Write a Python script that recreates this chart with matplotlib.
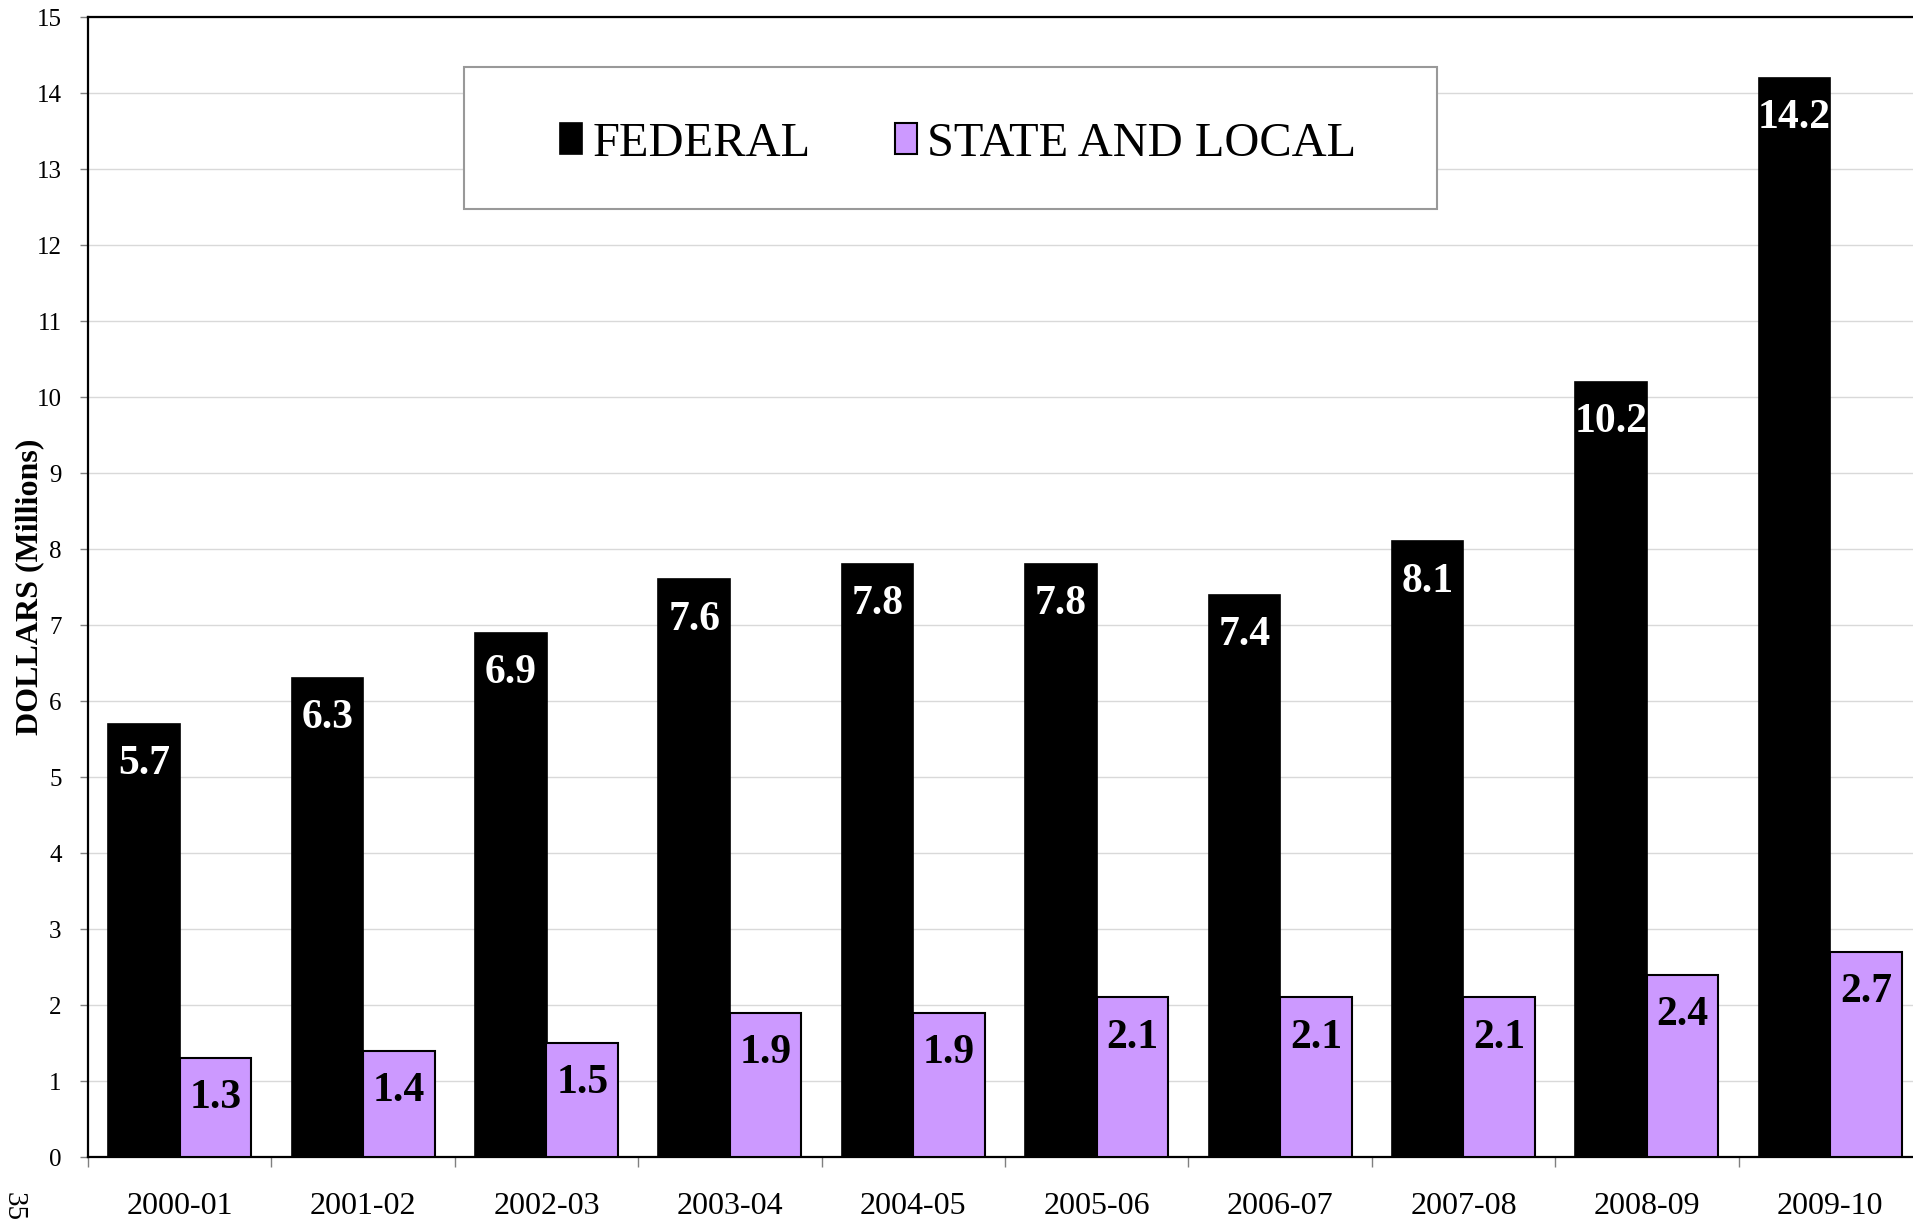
import matplotlib
matplotlib.use("Agg")
import matplotlib.pyplot as plt
from matplotlib.patches import Rectangle
import numpy as np

years = ["2000-01", "2001-02", "2002-03", "2003-04", "2004-05",
         "2005-06", "2006-07", "2007-08", "2008-09", "2009-10"]
federal = [5.7, 6.3, 6.9, 7.6, 7.8, 7.8, 7.4, 8.1, 10.2, 14.2]
state_local = [1.3, 1.4, 1.5, 1.9, 1.9, 2.1, 2.1, 2.1, 2.4, 2.7]

plt.rcParams["font.family"] = ["Liberation Serif", "DejaVu Serif"]

W, H = 1913, 1220
fig = plt.figure(figsize=(W / 100, H / 100), dpi=100)
# axes runs slightly past the right edge, like the cropped original
ax = fig.add_axes([88 / W, 1 - 1157 / H, 1834 / W, 1140 / H])

x = np.arange(len(years))
bw = 0.39
fed_bars = ax.bar(x - bw / 2, federal, bw, color="black", edgecolor="black",
                  linewidth=1.2, label="FEDERAL", zorder=3)
sl_bars = ax.bar(x + bw / 2, state_local, bw, color="#CC99FF", edgecolor="black",
                 linewidth=1.5, label="STATE AND LOCAL", zorder=3)

# value labels inside the top of each bar
for bars, vals, col in [(fed_bars, federal, "white"), (sl_bars, state_local, "black")]:
    for b, v in zip(bars, vals):
        ax.annotate(f"{v:.1f}", (b.get_x() + b.get_width() / 2, v),
                    xytext=(0, -29), textcoords="offset points",
                    ha="center", va="center", fontsize=30, fontweight="bold",
                    color=col, zorder=4)

ax.set_xlim(-0.5, len(years) - 0.5)
ax.set_ylim(0, 15)
ax.set_yticks(range(0, 16))
ax.tick_params(axis="y", length=6, width=1, color="#808080", pad=13, labelsize=18)

# category boundaries as major ticks, labels on minor ticks
ax.set_xticks(np.arange(-0.5, len(years), 1.0))
ax.set_xticklabels([])
ax.set_xticks(x, minor=True)
ax.set_xticklabels(years, minor=True)
ax.tick_params(axis="x", which="major", length=7, width=1, color="#808080")
ax.tick_params(axis="x", which="minor", length=0, pad=25, labelsize=23)

ax.grid(axis="y", color="#d9d9d9", linewidth=1, zorder=0)
for side in ["left", "top", "bottom"]:
    ax.spines[side].set_linewidth(1.6)
    ax.spines[side].set_color("black")
ax.spines["right"].set_visible(False)

ax.set_ylabel("DOLLARS (Millions)", fontsize=23, fontweight="bold")
ax.yaxis.set_label_coords(-0.024, 0.5)

# legend box drawn separately (wider padding than legend frame allows)
box = Rectangle(((464 - 88) / 1834, (1157 - 209) / 1140), 973 / 1834, 142 / 1140,
                transform=ax.transAxes, facecolor="white", edgecolor="#999999",
                linewidth=1.5, zorder=5)
ax.add_patch(box)
leg = ax.legend(loc="center", bbox_to_anchor=(0.4745, 0.889), ncol=2,
                fontsize=34.8, frameon=False, borderpad=0,
                handlelength=0.45, handleheight=0.6,
                handletextpad=0.22, columnspacing=1.75)
leg.set_zorder(6)

# page number, cut off at the bottom-left corner
fig.text(1 / W, 1 - 1192 / H, "35", rotation=-90, ha="left", va="top", fontsize=21)

fig.savefig("out.png", dpi=100)
